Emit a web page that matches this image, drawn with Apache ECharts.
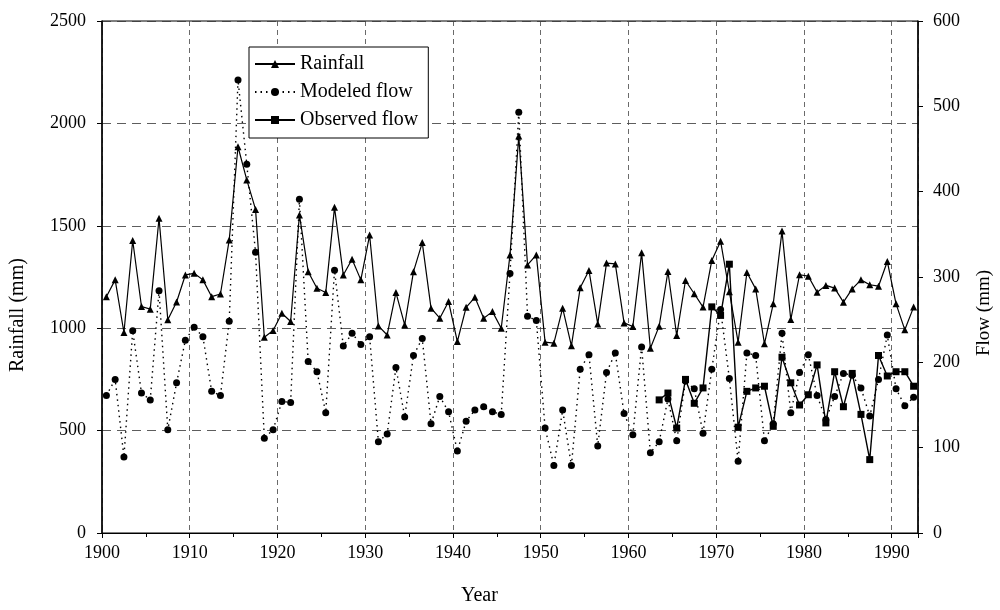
<!DOCTYPE html>
<html>
<head>
<meta charset="utf-8">
<script src="https://cdn.jsdelivr.net/npm/echarts@6/dist/echarts.min.js"></script>
<style>html,body{margin:0;padding:0;background:#fff;}#c{width:1000px;height:610px;}</style>
</head>
<body>
<div id="c"></div>
<script>
var firstYear = 1900;
var rainfall = [1154,1236,979,1428,1106,1093,1537,1041,1128,1260,
1268,1236,1154,1167,1431,1886,1724,1580,956,989,
1073,1033,1553,1276,1195,1174,1590,1260,1337,1236,
1455,1011,967,1174,1016,1276,1418,1098,1049,1130,
935,1102,1151,1049,1081,1000,1358,1938,1309,1358,
932,927,1098,914,1197,1282,1021,1318,1314,1026,
1008,1368,902,1010,1277,964,1233,1168,1103,1331,
1425,1178,932,1272,1192,924,1119,1474,1042,1261,
1254,1176,1209,1196,1127,1192,1236,1212,1205,1326,
1119,992,1103];
var modeledFlow = [161,180,89,237,164,156,284,121,176,226,
241,230,166,161,248,531,432,329,111,121,
154,153,391,201,189,141,308,219,234,221,
230,107,116,194,136,208,228,128,160,142,
96,131,144,148,142,139,304,493,254,249,
123,79,144,79,192,209,102,188,211,140,
115,218,94,107,157,108,178,169,117,192,
262,181,84,211,208,108,128,234,141,188,
209,161,133,160,187,185,170,137,180,232,
169,149,159];
var observedStart = 1963;
var observedFlow = [156,164,123,180,152,170,265,255,315,124,
166,170,172,125,206,176,150,162,197,129,
189,148,187,139,86,208,184,189,189,172];
var seriesNames = ['Rainfall','Modeled flow','Observed flow'];
var axisTitles = {x: 'Year', left: 'Rainfall (mm)', right: 'Flow (mm)'};

var years = [];
for (var i = 0; i < rainfall.length; i++) years.push(firstYear + i);

var font = "'Liberation Serif','DejaVu Serif',serif";
var rainData = years.map(function(y,i){return [y, rainfall[i]];});
var modData = years.map(function(y,i){return [y, modeledFlow[i]];});
var obsData = observedFlow.map(function(v,i){return [observedStart + i, v];});
function plain(v){ return String(v); }

var chart = echarts.init(document.getElementById('c'), null, {renderer:'canvas'});
chart.setOption({
  animation: false,
  backgroundColor: '#fff',
  textStyle: {fontFamily: font, color: '#000'},
  grid: {left: 102, right: 82, top: 21, bottom: 77, show: true, borderColor: '#000', borderWidth: 1, backgroundColor: 'transparent'},
  legend: {
    data: seriesNames,
    orient: 'vertical', left: 249, top: 47,
    borderColor: '#000', borderWidth: 1, backgroundColor: '#fff',
    padding: [7, 10, 8, 5], itemGap: 8, itemWidth: 40, itemHeight: 10,
    textStyle: {fontFamily: font, fontSize: 20, color: '#000'}
  },
  graphic: [
    {type: 'text', left: 461, top: 586, style: {text: axisTitles.x, font: '20px ' + font, fill: '#000'}},
    {type: 'text', x: 8, y: 372, rotation: Math.PI / 2, style: {text: axisTitles.left, font: '20px ' + font, fill: '#000'}},
    {type: 'text', x: 975, y: 356, rotation: Math.PI / 2, style: {text: axisTitles.right, font: '19px ' + font, fill: '#000'}}
  ],
  xAxis: [{
    type: 'value', min: 1900, max: 1993, interval: 10,
    axisLine: {show: true, lineStyle: {color: '#000', width: 1}},
    axisTick: {show: true, length: 5, lineStyle: {color: '#000'}},
    minorTick: {show: true, splitNumber: 2, length: 4, lineStyle: {color: '#000'}},
    axisLabel: {fontFamily: font, fontSize: 18, color: '#000', margin: 11,
      showMaxLabel: false, formatter: plain},
    splitLine: {show: true, lineStyle: {color: '#444', type: [5, 4], width: 0.8}}
  }, {
    type: 'value', min: 1899.5, max: 1992.5, show: false
  }],
  yAxis: [{
    type: 'value', min: 0, max: 2500, interval: 500, position: 'left',
    axisLine: {show: true, lineStyle: {color: '#000', width: 1.5}},
    axisTick: {show: true, length: 5, lineStyle: {color: '#000'}},
    axisLabel: {fontFamily: font, fontSize: 18, color: '#000', margin: 16, formatter: plain},
    splitLine: {show: true, lineStyle: {color: '#333', type: [9, 6], width: 0.8}}
  }, {
    type: 'value', min: 0, max: 600, interval: 100, position: 'right',
    axisLine: {show: true, lineStyle: {color: '#000', width: 1.5}},
    axisTick: {show: true, length: 5, lineStyle: {color: '#000'}},
    axisLabel: {fontFamily: font, fontSize: 18, color: '#000', margin: 15, formatter: plain},
    splitLine: {show: false}
  }],
  series: [{
    name: seriesNames[0], type: 'line', xAxisIndex: 1, yAxisIndex: 0,
    data: rainData, symbol: 'triangle', symbolSize: 7,
    itemStyle: {color: '#000'}, lineStyle: {color: '#000', width: 1.2}, z: 3
  }, {
    name: seriesNames[1], type: 'line', xAxisIndex: 1, yAxisIndex: 1,
    data: modData, symbol: 'circle', symbolSize: 7,
    itemStyle: {color: '#000'}, lineStyle: {color: '#000', width: 1.4, type: [1.5, 4]}, z: 2
  }, {
    name: seriesNames[2], type: 'line', xAxisIndex: 1, yAxisIndex: 1,
    data: obsData, symbol: 'rect', symbolSize: 7,
    itemStyle: {color: '#000'}, lineStyle: {color: '#000', width: 1.4}, z: 4
  }]
});
</script>
</body>
</html>
